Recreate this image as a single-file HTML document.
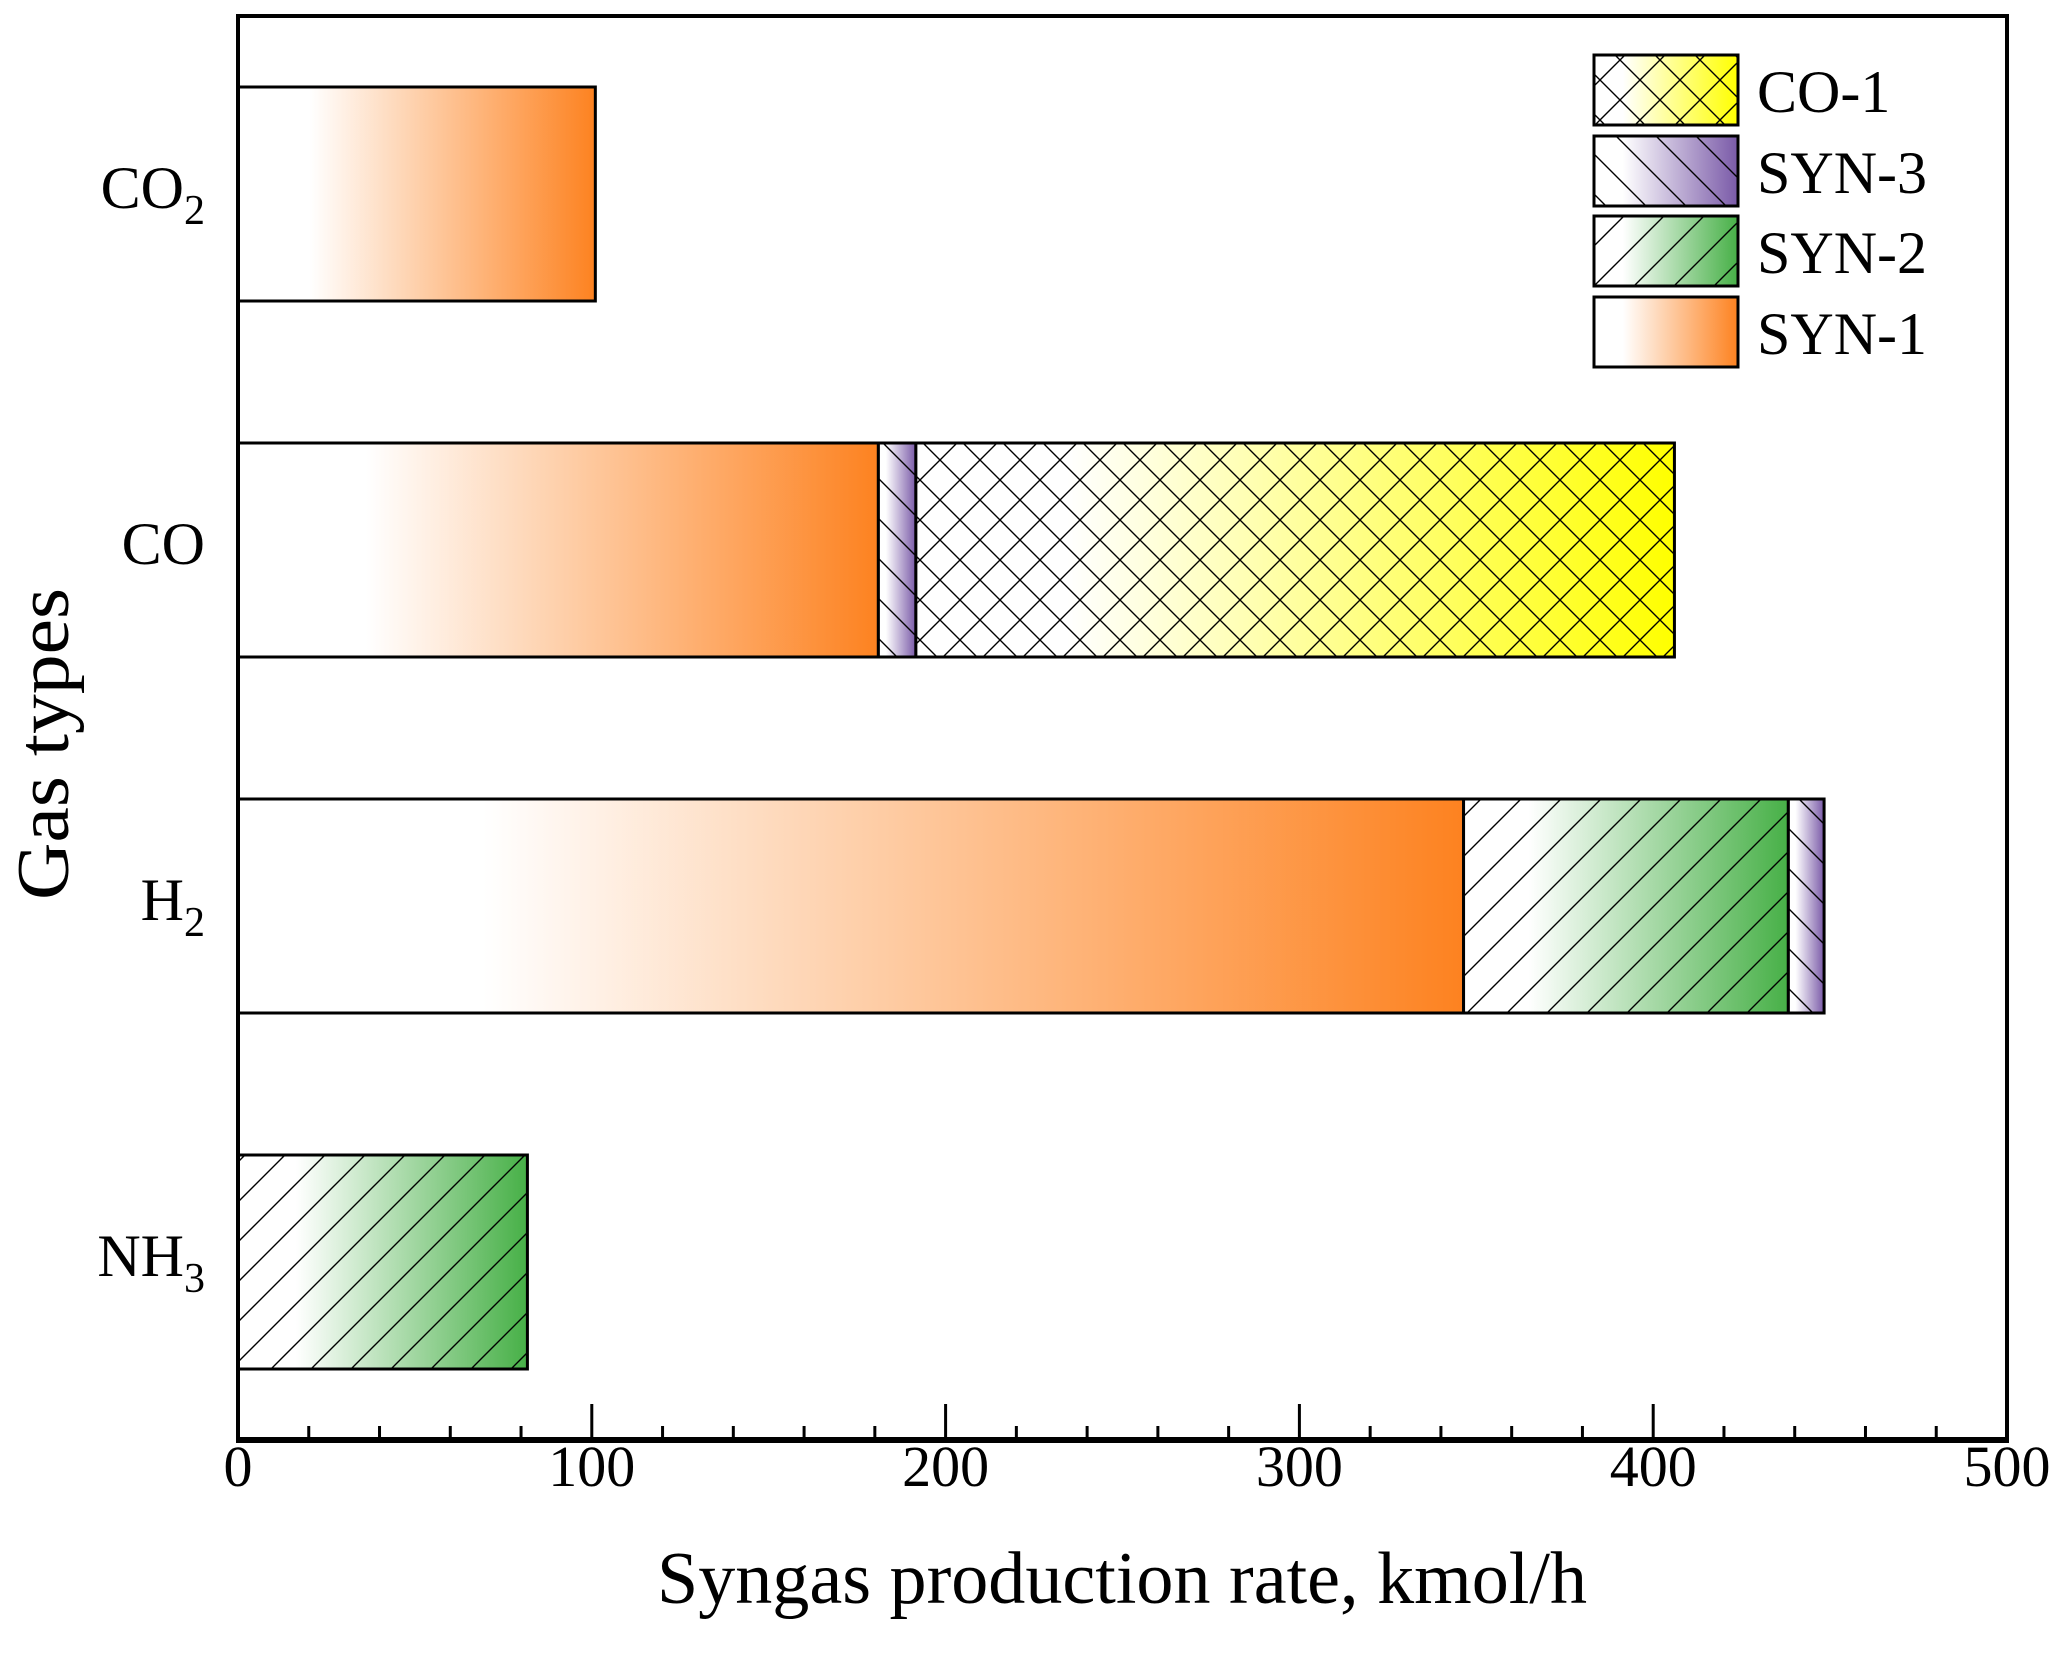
<!DOCTYPE html>
<html><head><meta charset="utf-8"><style>
html,body{margin:0;padding:0;background:#fff;}
svg{display:block;font-family:"Liberation Serif","DejaVu Serif",serif;}
</style></head><body>
<svg id="chart" width="2064" height="1666" viewBox="0 0 2064 1666" xmlns="http://www.w3.org/2000/svg">
<defs>
  <linearGradient id="g-syn1" x1="0" x2="1" y1="0" y2="0"><stop offset="0.2" stop-color="#fff"/><stop offset="1" stop-color="#fd8220"/></linearGradient>
  <linearGradient id="g-syn2" x1="0" x2="1" y1="0" y2="0"><stop offset="0.2" stop-color="#fff"/><stop offset="1" stop-color="#47b047"/></linearGradient>
  <linearGradient id="g-syn3" x1="0" x2="1" y1="0" y2="0"><stop offset="0.2" stop-color="#fff"/><stop offset="1" stop-color="#7a5aa8"/></linearGradient>
  <linearGradient id="g-co1" x1="0" x2="1" y1="0" y2="0"><stop offset="0.2" stop-color="#fff"/><stop offset="1" stop-color="#ffff00"/></linearGradient>
  <pattern id="p-fwd" patternUnits="userSpaceOnUse" width="40" height="40"><path d="M0,40 L40,0 M-10,10 L10,-10 M30,50 L50,30" stroke="#000" stroke-width="1.4"/></pattern>
  <pattern id="p-back" patternUnits="userSpaceOnUse" width="40" height="40"><path d="M0,0 L40,40 M-10,30 L10,50 M30,-10 L50,10" stroke="#000" stroke-width="1.4"/></pattern>
  <pattern id="p-cross" patternUnits="userSpaceOnUse" width="40" height="40"><path d="M0,40 L40,0 M-10,10 L10,-10 M30,50 L50,30 M0,0 L40,40 M-10,30 L10,50 M30,-10 L50,10" stroke="#000" stroke-width="1.4"/></pattern>
</defs>
<g id="bars"></g>
<g id="axes"></g>
<g id="legend"></g>
<text x="1122" y="1603" font-size="74" text-anchor="middle" textLength="930" lengthAdjust="spacingAndGlyphs">Syngas production rate, kmol/h</text>
<text x="0" y="0" font-size="74" text-anchor="middle" textLength="312" lengthAdjust="spacingAndGlyphs" transform="translate(68,744) rotate(-90)">Gas types</text>
</svg>
<script>
const categories = ["CO2", "CO", "H2", "NH3"];
const seriesNames = ["SYN-1", "SYN-3", "SYN-2", "CO-1"];
const syn1 = [101, 181, 346.4, 0];
const syn2 = [0, 0, 91.8, 81.8];
const syn3 = [0, 10.6, 10.1, 0];
const co1 = [0, 214.4, 0, 0];
const xTicks = [0, 100, 200, 300, 400, 500];
const xTickLabels = ["0", "100", "200", "300", "400", "500"];

const NS = "http://www.w3.org/2000/svg";
const L = 238, R = 2007, T = 16, B = 1440, XMAX = 500;
const xs = v => L + (v / XMAX) * (R - L);
const bandH = (B - T) / categories.length;
const barH = 214;
const yc = i => T + bandH * (i + 0.5);
function mk(tag, attrs, parent) { const e = document.createElementNS(NS, tag); for (const k in attrs) e.setAttribute(k, attrs[k]); parent.appendChild(e); return e; }

const styles = {
  "SYN-1": ["url(#g-syn1)", null],
  "SYN-2": ["url(#g-syn2)", "url(#p-fwd)"],
  "SYN-3": ["url(#g-syn3)", "url(#p-back)"],
  "CO-1": ["url(#g-co1)", "url(#p-cross)"]
};
const bars = document.getElementById("bars");
categories.forEach((c, i) => {
  let order;
  if (c === "H2") order = [["SYN-1", syn1[i]], ["SYN-2", syn2[i]], ["SYN-3", syn3[i]]];
  else order = [["SYN-1", syn1[i]], ["SYN-3", syn3[i]], ["SYN-2", syn2[i]], ["CO-1", co1[i]]];
  let acc = 0;
  order.forEach(([name, v]) => {
    if (!v) return;
    const x0 = xs(acc), x1 = xs(acc + v);
    const y = yc(i) - barH / 2;
    const g = mk("g", {}, bars);
    
    
    mk("rect", {x: x0, y: y, width: x1 - x0, height: barH, fill: styles[name][0]}, g);
    if (styles[name][1]) mk("rect", {x: x0, y: y, width: x1 - x0, height: barH, fill: styles[name][1]}, g);
    mk("rect", {x: x0, y: y, width: x1 - x0, height: barH, fill: "none", stroke: "#000", "stroke-width": 3}, g);
    acc += v;
  });
});

const axes = document.getElementById("axes");
const frame = mk("rect", {x: L, y: T, width: R - L, height: B - T, fill: "none", stroke: "#000", "stroke-width": 4}, axes);


const xaxis = mk("line", {x1: L - 2, x2: R + 2, y1: B, y2: B, stroke: "#000", "stroke-width": 6}, axes);


for (let v = 0; v <= XMAX; v += 20) {
  const major = v % 100 === 0;
  const t = mk("line", {x1: xs(v), x2: xs(v), y1: B, y2: B - (major ? 36 : 14), stroke: "#000", "stroke-width": 3}, axes);
  
  
}
xTicks.forEach((v, k) => {
  const t = mk("text", {x: xs(v), y: 1486, "font-size": 58, "text-anchor": "middle"}, axes);
  t.textContent = xTickLabels[k];
  
  
});
const catLabels = [["CO", "2"], ["CO", ""], ["H", "2"], ["NH", "3"]];
categories.forEach((c, i) => {
  const [main, sub] = catLabels[i];
  const t = mk("text", {x: 205, y: yc(i) + 14, "font-size": 60, "text-anchor": "end"}, axes);
  
  
  t.appendChild(document.createTextNode(main));
  if (sub) { const s = mk("tspan", {"font-size": 42, dy: 16}, t); s.textContent = sub; }
});

const legend = document.getElementById("legend");
const legendItems = ["CO-1", "SYN-3", "SYN-2", "SYN-1"];
const rowsY = [55, 136, 216, 297];
legendItems.forEach((name, k) => {
  const g = mk("g", {}, legend);
  
  
  const y = rowsY[k];
  mk("rect", {x: 1594, y: y, width: 144, height: 70, fill: styles[name][0]}, g);
  if (styles[name][1]) mk("rect", {x: 1594, y: y, width: 144, height: 70, fill: styles[name][1]}, g);
  mk("rect", {x: 1594, y: y, width: 144, height: 70, fill: "none", stroke: "#000", "stroke-width": 3}, g);
  const t = mk("text", {x: 1757, y: y + 57, "font-size": 60}, g);
  t.textContent = name;
});
</script>
</body></html>
